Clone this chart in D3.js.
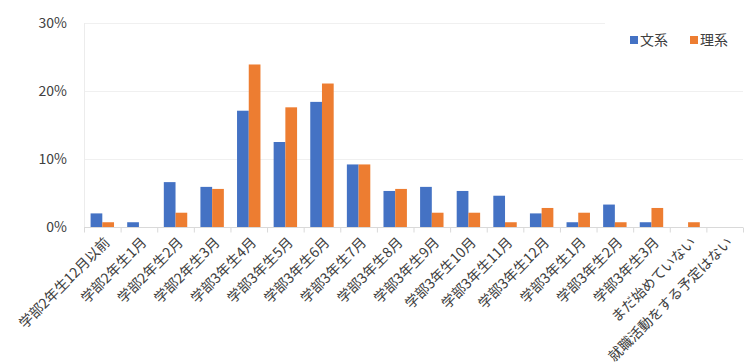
<!DOCTYPE html>
<html>
<head>
<meta charset="utf-8">
<script src="https://cdn.jsdelivr.net/npm/d3@7"></script>
<style>
  body { margin: 0; background: #fff; }
  svg { display: block; font-family: "Noto Sans CJK JP", "Noto Sans", sans-serif; }
</style>
</head>
<body>
<svg id="chart" width="750" height="364"></svg>
<script>
// categories along the x axis
var categories = [
  "学部2年生12月以前", "学部2年生1月", "学部2年生2月", "学部2年生3月",
  "学部3年生4月", "学部3年生5月", "学部3年生6月", "学部3年生7月",
  "学部3年生8月", "学部3年生9月", "学部3年生10月", "学部3年生11月",
  "学部3年生12月", "学部3年生1月", "学部3年生2月", "学部3年生3月",
  "まだ始めていない", "就職活動をする予定はない"
];

// percent values
var bunkei = [2.0, 0.7, 6.6, 5.9, 17.1, 12.5, 18.4, 9.2, 5.3, 5.9, 5.3, 4.6, 2.0, 0.7, 3.3, 0.7, 0, 0];
var rikei  = [0.7, 0, 2.1, 5.6, 23.9, 17.6, 21.1, 9.2, 5.6, 2.1, 2.1, 0.7, 2.8, 2.1, 0.7, 2.8, 0.7, 0];

var seriesNames = ["文系", "理系"];
var colors = ["#4472C4", "#ED7D31"];
var yTicks = [0, 10, 20, 30];

var margin = {left: 84, right: 7, top: 23, bottom: 137};
var W = 750, H = 364;

var svg = d3.select('#chart');

var x0 = d3.scaleBand()
  .domain(categories)
  .range([margin.left, W - margin.right])
  .paddingInner(0.36)
  .paddingOuter(0.18);

var x1 = d3.scaleBand()
  .domain(seriesNames)
  .range([0, x0.bandwidth()]);

var y = d3.scaleLinear()
  .domain([0, 30])
  .range([H - margin.bottom, margin.top]);

// gridlines
svg.append('g')
  .selectAll('line')
  .data(yTicks.slice(1))
  .enter()
  .append('line')
  .attr('x1', margin.left)
  .attr('x2', W - margin.right)
  .attr('y1', function(d){ return y(d) + 0.5 })
  .attr('y2', function(d){ return y(d) + 0.5 })
  .style('stroke', '#f0f0f0')
  .style('stroke-width', 1);

// left axis line (light)
svg.append('line')
  .attr('x1', margin.left + 0.5).attr('x2', margin.left + 0.5)
  .attr('y1', y(30)).attr('y2', y(0))
  .style('stroke', '#ececec');

// y labels
svg.append('g')
  .selectAll('text')
  .data(yTicks)
  .enter()
  .append('text')
  .attr('x', 67)
  .attr('y', function(d){ return y(d) })
  .attr('dy', '0.35em')
  .attr('text-anchor', 'end')
  .style('font-size', '14px')
  .style('fill', '#404040')
  .text(function(d){ return d + '%' });

// bars
var rows = categories.map(function(c, i){
  return {cat: c, vals: [bunkei[i], rikei[i]]};
});

var groups = svg.append('g')
  .selectAll('g')
  .data(rows)
  .enter()
  .append('g')
  .attr('transform', function(d){ return 'translate(' + x0(d.cat) + ',0)' });

groups.selectAll('rect')
  .data(function(d){ return d.vals.map(function(v, k){ return {name: seriesNames[k], v: v, k: k} }) })
  .enter()
  .append('rect')
  .attr('x', function(d){ return x1(d.name) })
  .attr('width', x1.bandwidth())
  .attr('y', function(d){ return y(d.v) })
  .attr('height', function(d){ return y(0) - y(d.v) })
  .style('fill', function(d){ return colors[d.k] });

// x axis line and boundary ticks
var step = x0.step();
var axisY = y(0) + 0.5;
svg.append('line')
  .attr('x1', margin.left).attr('x2', W - margin.right)
  .attr('y1', axisY).attr('y2', axisY)
  .style('stroke', '#d9d9d9');

svg.append('g')
  .selectAll('line')
  .data(d3.range(categories.length + 1))
  .enter()
  .append('line')
  .attr('x1', function(i){ return margin.left + i * step + 0.5 })
  .attr('x2', function(i){ return margin.left + i * step + 0.5 })
  .attr('y1', axisY)
  .attr('y2', axisY + 5)
  .style('stroke', '#d9d9d9');

// rotated category labels
svg.append('g')
  .selectAll('text')
  .data(categories)
  .enter()
  .append('text')
  .attr('transform', function(d){
    var cx = x0(d) + x0.bandwidth() / 2 + 5;
    return 'translate(' + cx + ',' + (y(0) + 13) + ') rotate(-45)';
  })
  .attr('text-anchor', 'end')
  .attr('dy', '0.35em')
  .style('font-size', '14px')
  .style('fill', '#404040')
  .text(function(d){ return d });

// legend (white box covers top gridline on the right)
svg.append('rect')
  .attr('x', 605).attr('y', 15)
  .attr('width', 145).attr('height', 40)
  .style('fill', '#fff');

var legend = svg.append('g')
  .selectAll('g')
  .data(seriesNames)
  .enter()
  .append('g')
  .attr('transform', function(d, i){ return 'translate(' + (630 + i * 60) + ',36)' });

legend.append('rect')
  .attr('width', 8).attr('height', 8)
  .style('fill', function(d, i){ return colors[i] });

legend.append('text')
  .attr('x', 10)
  .attr('y', 4)
  .attr('dy', '0.35em')
  .style('font-size', '14px')
  .style('fill', '#404040')
  .text(function(d){ return d });
</script>
</body>
</html>
